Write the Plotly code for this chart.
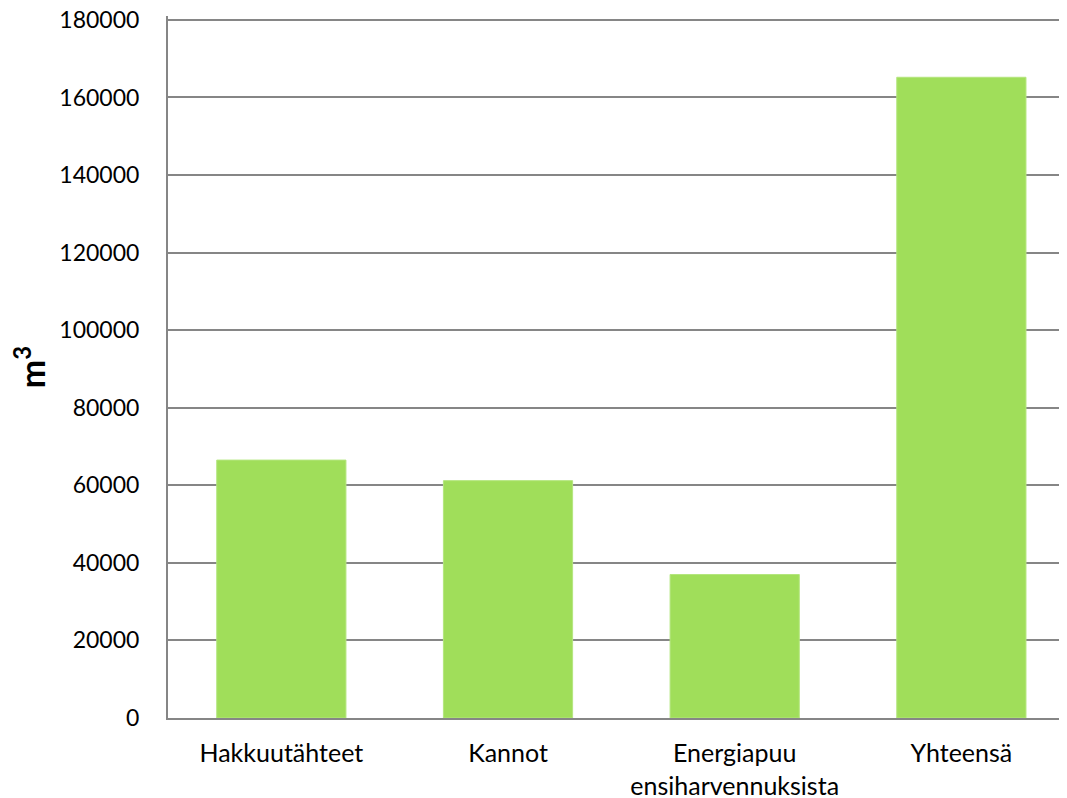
import plotly.graph_objects as go

categories = ["Hakkuutähteet", "Kannot", "Energiapuu<br>ensiharvennuksista", "Yhteensä"]
values = [66500, 61200, 37000, 165200]
y_ticks = [0, 20000, 40000, 60000, 80000, 100000, 120000, 140000, 160000, 180000]

fig = go.Figure(go.Bar(
    x=categories, y=values,
    marker=dict(color="#A0DE5A", line=dict(color="#B4E67E", width=1)),
))

fig.update_layout(
    width=1059, height=790,
    margin=dict(l=160, r=0, t=8, b=80, autoexpand=False),
    plot_bgcolor="white", paper_bgcolor="white",
    bargap=0.43,
    showlegend=False,
    font=dict(family="Lato", size=22, color="#000000"),
)
fig.update_xaxes(
    range=[-0.5, 3.466],
    showline=True, linecolor="#868686", linewidth=2,
    ticks="outside", ticklen=12, tickcolor="rgba(0,0,0,0)",
    tickfont=dict(family="Lato", size=25),
    showgrid=False,
)
fig.update_yaxes(
    range=[0, 181000], tickvals=y_ticks, ticktext=[str(v) for v in y_ticks],
    showline=True, linecolor="#868686", linewidth=2,
    showgrid=True, gridcolor="#868686", gridwidth=1.5,
    ticks="outside", ticklen=22, tickcolor="rgba(0,0,0,0)",
    tickfont=dict(family="Lato", size=23),
    ticklabeloverflow="allow",
    zeroline=False,
    title=dict(text="<b>m<sup>3</sup></b>", font=dict(family="Lato", size=34), standoff=15),
)

fig.write_html("out.html")
